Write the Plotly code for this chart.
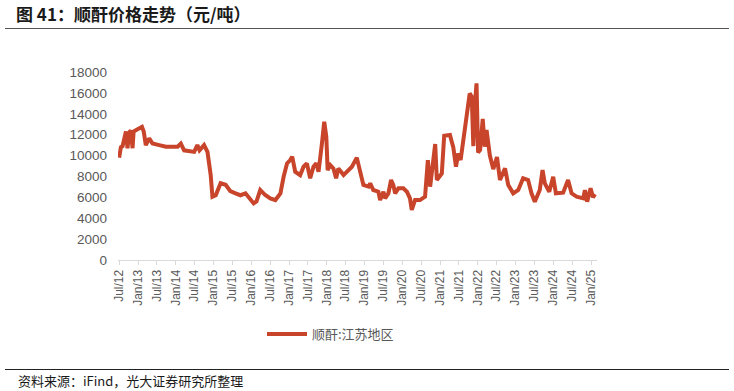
import plotly.graph_objects as go

# ---- data ----
dates = [
    "2012-07-01", "2012-07-18", "2012-08-03", "2012-09-05", "2012-09-20", "2012-10-05",
    "2012-10-22", "2012-11-08", "2012-11-18", "2012-12-10", "2013-01-06", "2013-02-07",
    "2013-02-24", "2013-03-16", "2013-04-18", "2013-05-20", "2013-07-24", "2013-09-27",
    "2014-01-18", "2014-02-18", "2014-03-22", "2014-06-27", "2014-07-28", "2014-08-18",
    "2014-10-01", "2014-11-03", "2014-12-04", "2014-12-21", "2015-01-22", "2015-03-10",
    "2015-04-28", "2015-06-12", "2015-08-01", "2015-09-18", "2015-11-06", "2015-12-22",
    "2016-01-24", "2016-02-20", "2016-03-28", "2016-05-15", "2016-07-03", "2016-08-21",
    "2016-10-09", "2016-11-09", "2016-12-12", "2017-01-12", "2017-01-31", "2017-03-01",
    "2017-04-18", "2017-05-21", "2017-06-22", "2017-07-24", "2017-08-25", "2017-09-21",
    "2017-10-13", "2017-11-15", "2017-12-07", "2017-12-27", "2018-01-09", "2018-02-04",
    "2018-03-06", "2018-04-01", "2018-04-23", "2018-06-12", "2018-07-31", "2018-09-01",
    "2018-10-18", "2018-11-20", "2018-12-06", "2018-12-21", "2019-02-09", "2019-02-25",
    "2019-03-27", "2019-05-15", "2019-06-01", "2019-07-03", "2019-07-19", "2019-08-20",
    "2019-09-15", "2019-10-07", "2019-10-24", "2019-11-25", "2020-01-12", "2020-02-15",
    "2020-03-16", "2020-04-02", "2020-05-04", "2020-06-21", "2020-08-09", "2020-09-05",
    "2020-09-27", "2020-10-19", "2020-11-15", "2020-12-01", "2021-01-02", "2021-01-18",
    "2021-02-10", "2021-04-07", "2021-04-24", "2021-05-09", "2021-06-04", "2021-06-27",
    "2021-07-19", "2021-08-14", "2021-08-21", "2021-09-15", "2021-10-15", "2021-11-04",
    "2021-11-19", "2021-12-05", "2021-12-20", "2022-01-04", "2022-01-24", "2022-02-18",
    "2022-03-10", "2022-03-27", "2022-04-28", "2022-05-31", "2022-07-06", "2022-08-04",
    "2022-09-22", "2022-10-23", "2022-12-10", "2023-01-28", "2023-03-16", "2023-05-03",
    "2023-06-05", "2023-07-07", "2023-08-24", "2023-09-20", "2023-10-12", "2023-11-24",
    "2024-01-01", "2024-01-27", "2024-04-06", "2024-05-24", "2024-06-27", "2024-08-15",
    "2024-10-18", "2024-11-03", "2024-11-25", "2024-12-28", "2025-01-20", "2025-02-09",
]
prices = [
    9800, 10800, 10900, 12300, 10700, 12200,
    12400, 10700, 12300, 12450, 12600, 12750,
    12300, 11000, 11650, 11150, 11000, 10850,
    10850, 11150, 10500, 10350, 11000, 10500,
    11000, 10350, 8150, 6050, 6200, 7350,
    7200, 6600, 6380, 6200, 6380, 5740,
    5420, 5600, 6700, 6220, 5900, 5740,
    6380, 7970, 9250, 9570, 9890, 8450,
    8130, 8930, 9250, 7820, 8930, 9250,
    8450, 11170, 13240, 11800, 8610, 9090,
    8770, 7820, 8770, 8130, 8610, 8930,
    9800, 8290, 7660, 7180, 7020, 7340,
    6700, 6540, 5740, 6540, 5900, 6380,
    7660, 7180, 6380, 6860, 6860, 6540,
    5900, 4790, 5740, 5740, 6060, 9570,
    7020, 8610, 11100, 7660, 8130, 8290,
    11900, 11970, 11330, 10800, 8930, 10210,
    9570, 11490, 11650, 13150, 15950, 15630,
    10900, 15000, 16910, 10300, 10530, 13500,
    10850, 12440, 10000, 8700, 9850, 7660,
    8770, 7180, 6380, 6700, 7820, 7660,
    6380, 5580, 6700, 8610, 7340, 6540,
    7970, 6380, 6450, 7660, 6380, 6060,
    5900, 6700, 5580, 6860, 6000, 6300,
]
series_name = "顺酐:江苏地区"

tick_dates = [
    "2012-07-01", "2013-01-01", "2013-07-01", "2014-01-01", "2014-07-01", "2015-01-01",
    "2015-07-01", "2016-01-01", "2016-07-01", "2017-01-01", "2017-07-01", "2018-01-01",
    "2018-07-01", "2019-01-01", "2019-07-01", "2020-01-01", "2020-07-01", "2021-01-01",
    "2021-07-01", "2022-01-01", "2022-07-01", "2023-01-01", "2023-07-01", "2024-01-01",
    "2024-07-01", "2025-01-01",
]
tick_labels = [
    "Jul/12", "Jan/13", "Jul/13", "Jan/14", "Jul/14", "Jan/15",
    "Jul/15", "Jan/16", "Jul/16", "Jan/17", "Jul/17", "Jan/18",
    "Jul/18", "Jan/19", "Jul/19", "Jan/20", "Jul/20", "Jan/21",
    "Jul/21", "Jan/22", "Jul/22", "Jan/23", "Jul/23", "Jan/24",
    "Jul/24", "Jan/25",
]
y_ticks = [0, 2000, 4000, 6000, 8000, 10000, 12000, 14000, 16000, 18000]

title_text = "图 41：顺酐价格走势（元/吨）"
source_text = "资料来源：iFind，光大证券研究所整理"

# ---- figure ----
FONT = "Liberation Sans, Arial, Noto Sans CJK SC, sans-serif"
CJK = "Noto Sans CJK SC, Liberation Sans, sans-serif"
W, H = 734, 391
L, R, T, B = 118, 137, 72, 131
pw, ph = W - L - R, H - T - B


def px(x):
    return (x - L) / pw


def py(y):
    return (H - B - y) / ph


fig = go.Figure()
fig.add_trace(go.Scatter(
    x=dates, y=prices, mode="lines", name=series_name,
    line=dict(color="#C8442A", width=4),
))

fig.update_layout(
    width=W, height=H, autosize=False,
    margin=dict(l=L, r=R, t=T, b=B),
    paper_bgcolor="white", plot_bgcolor="white",
    font=dict(family=FONT, color="#595959", size=12),
    showlegend=True,
    legend=dict(
        orientation="h", x=px(262), xanchor="left", y=py(334), yanchor="middle",
        font=dict(family=CJK, size=13, color="#595959"),
        itemwidth=40,
    ),
    xaxis=dict(
        type="date", range=["2012-06-20", "2025-02-28"],
        tickmode="array", tickvals=tick_dates, ticktext=tick_labels,
        tickangle=-90, tickfont=dict(size=12, color="#595959"),
        showgrid=False, zeroline=False,
        showline=True, linecolor="#D9D9D9", linewidth=1,
        ticks="outside", ticklen=4, tickcolor="#D9D9D9",
    ),
    yaxis=dict(
        range=[0, 18000], tickmode="array", tickvals=y_ticks, tickformat="d",
        tickfont=dict(size=13.5, color="#595959"),
        showgrid=False, zeroline=False, showline=False, ticks="",
        ticklabelstandoff=10,
    ),
    annotations=[
        dict(text="<b>" + title_text + "</b>", xref="paper", yref="paper",
             x=px(14), y=py(14), xanchor="left", yanchor="middle", showarrow=False,
             font=dict(family=CJK, size=17, color="#1a1a1a")),
        dict(text=source_text, xref="paper", yref="paper",
             x=px(16), y=py(380), xanchor="left", yanchor="middle", showarrow=False,
             font=dict(family=CJK, size=13, color="#1a1a1a")),
    ],
    shapes=[
        dict(type="line", xref="paper", yref="paper", x0=px(5), x1=px(729),
             y0=py(28.5), y1=py(28.5), line=dict(color="#555555", width=1.2)),
        dict(type="line", xref="paper", yref="paper", x0=px(5), x1=px(729),
             y0=py(369.5), y1=py(369.5), line=dict(color="#222222", width=1)),
    ],
)

fig.write_html(
    "out.html",
    config={"displayModeBar": False},
    post_script="document.body.style.margin='0';document.body.style.padding='0';",
)
